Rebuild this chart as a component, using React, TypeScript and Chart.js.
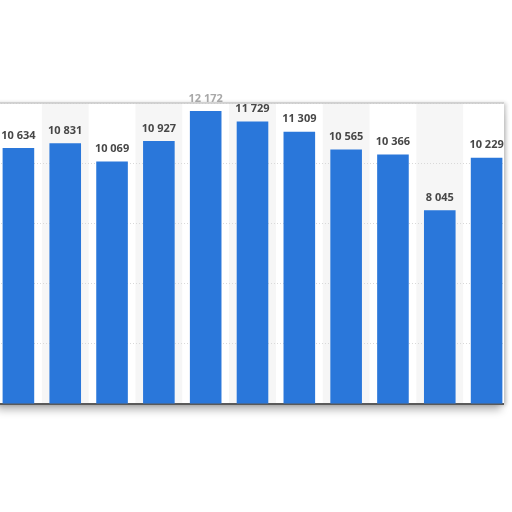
import { useEffect, useRef } from 'react';
import { Chart, registerables } from 'chart.js';

Chart.register(...registerables);

// categories are cut off in the picture, only the bars and value labels show
const categories = ['2010', '2011', '2012', '2013', '2014', '2015', '2016', '2017', '2018', '2019', '2020'];
const values = [10634, 10831, 10069, 10927, 12172, 11729, 11309, 10565, 10366, 8045, 10229];
const yMax = 12500;
const yStep = 2500;

const fmt = (v: number) => String(v).replace(/\B(?=(\d{3})+(?!\d))/g, ' ');

// canvas sits 5.2px left of the page, panel edge is at page x 504
const PANEL_RIGHT = 509;

const panelPlugin = {
  id: 'panel',
  beforeDraw(chart: any) {
    const { ctx, chartArea } = chart;
    const x = chart.scales.x;
    const w = x.width / categories.length;
    ctx.save();
    ctx.fillStyle = '#f6f6f6';
    categories.forEach((_, i) => {
      if (i % 2 === 1) {
        const cx = x.getPixelForValue(i);
        ctx.fillRect(cx - w / 2, chartArea.top, w, chartArea.bottom - chartArea.top);
      }
    });
    ctx.restore();
  },
  beforeDatasetsDraw(chart: any) {
    const { ctx, chartArea } = chart;
    ctx.save();
    // trim grid and axis at the panel edge
    ctx.clearRect(PANEL_RIGHT, chartArea.top - 2, chart.width - PANEL_RIGHT, chartArea.bottom - chartArea.top + 6);
    ctx.strokeStyle = '#c9c9c9';
    ctx.lineWidth = 1.5;
    ctx.beginPath();
    ctx.moveTo(0, chartArea.top);
    ctx.lineTo(PANEL_RIGHT, chartArea.top);
    ctx.stroke();
    ctx.restore();
  },
  afterDatasetsDraw(chart: any) {
    const { ctx, chartArea } = chart;
    const meta = chart.getDatasetMeta(0);
    ctx.save();
    ctx.font = 'bold 11px "Open Sans", sans-serif';
    ctx.textAlign = 'center';
    ctx.textBaseline = 'bottom';
    meta.data.forEach((bar: any, i: number) => {
      const y = bar.y - 7;
      ctx.fillStyle = y - 7 < chartArea.top ? '#a8a8a8' : '#474747';
      ctx.fillText(fmt(values[i]), bar.x, y);
    });
    ctx.restore();
  },
};

export default function App() {
  const ref = useRef<HTMLCanvasElement>(null);

  useEffect(() => {
    if (!ref.current) return;
    const chart = new Chart(ref.current, {
      type: 'bar',
      data: {
        labels: categories,
        datasets: [{ data: values, backgroundColor: '#2a77da', categoryPercentage: 1, barPercentage: 0.675 }],
      },
      options: {
        animation: false,
        responsive: true,
        maintainAspectRatio: false,
        layout: { padding: { top: 33, bottom: 1, left: 0, right: 0 } },
        plugins: { legend: { display: false }, tooltip: { enabled: false } },
        scales: {
          x: {
            grid: { display: false, drawTicks: false },
            ticks: { display: false },
            border: { display: true, color: '#5a5a5a', width: 2 },
          },
          y: {
            min: 0,
            max: yMax,
            ticks: { display: false, stepSize: yStep },
            grid: { color: '#d9d9d9', lineWidth: 1, drawTicks: false },
            border: { display: false, dash: [1, 2] },
          },
        },
      },
      plugins: [panelPlugin],
    });
    return () => chart.destroy();
  }, []);

  return (
    <div style={{ position: 'fixed', left: 0, top: 0, width: 512, height: 512, overflow: 'hidden', background: '#fff' }}>
      <div
        style={{
          position: 'absolute',
          left: -6,
          top: 103,
          width: 510,
          height: 302,
          background: '#fff',
          boxShadow: '0 8px 8px -3px rgba(0,0,0,0.28), 2px 0 4px rgba(0,0,0,0.22)',
        }}
      />
      <div style={{ position: 'absolute', left: -5.2, top: 70, width: 515, height: 335 }}>
        <canvas ref={ref} />
      </div>
    </div>
  );
}
